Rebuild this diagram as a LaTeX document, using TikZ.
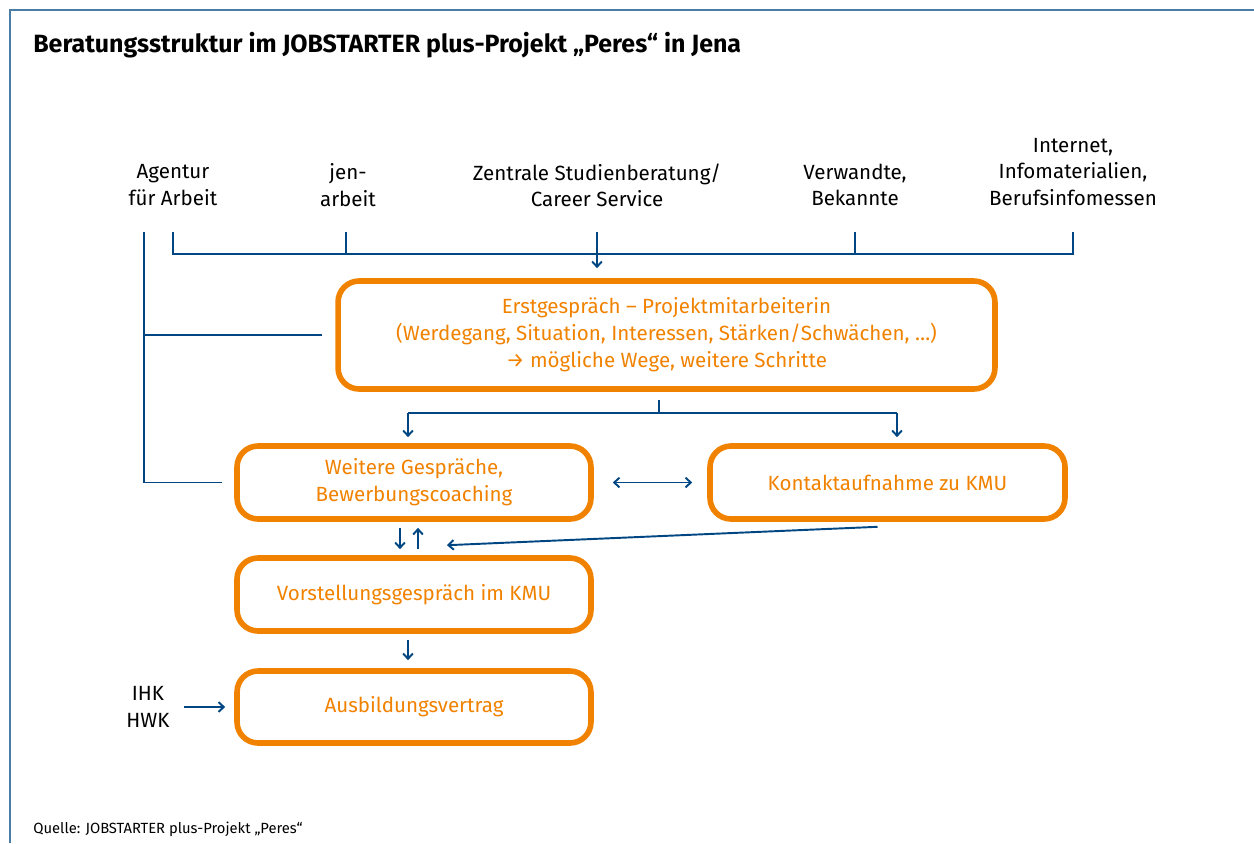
\documentclass[tikz,border=0pt]{standalone}
\usepackage{fontspec}
\setmainfont{Fira Sans}
\usetikzlibrary{arrows.meta,calc}
\definecolor{orng}{RGB}{240,130,0}
\definecolor{dblue}{RGB}{0,70,130}
\definecolor{frm}{RGB}{74,125,165}
\begin{document}
\begin{tikzpicture}[x=0.02cm,y=-0.02cm,
  txt/.style={font=\fontsize{11.7}{15}\selectfont, align=center, inner sep=0pt},
  box/.style={draw=orng, line width=3.2pt, rounded corners=0.42cm, text=orng,
    font=\fontsize{11.7}{15.4}\selectfont, align=center, inner sep=0pt},
  conn/.style={draw=dblue, line width=1.1pt},
  arr/.style={conn, -{Straight Barb[length=3pt,width=5.5pt]}},
  darr/.style={conn, {Straight Barb[length=3pt,width=5.5pt]}-{Straight Barb[length=3pt,width=5.5pt]}}]
\useasboundingbox (0,0) rectangle (1254,843);
\draw[frm, line width=1.2pt] (10,843) -- (10,10) -- (1254,10);

% title and source
\node[anchor=base west, inner sep=0pt, font=\fontsize{14.2}{17}\selectfont\bfseries] (title) at (33,52)
  {Beratungsstruktur im JOBSTARTER plus-Projekt „Peres“ in Jena};
\node[anchor=base west, inner sep=0pt, font=\fontsize{8.4}{10}\selectfont] (quelle) at (33,833)
  {Quelle: JOBSTARTER plus-Projekt „Peres“};

% sources
\node[txt] (agentur) at (173,185) {Agentur\\für Arbeit};
\node[txt] (jen) at (348,185) {jen-\\arbeit};
\node[txt] (zentrale) at (597,185) {Zentrale Studienberatung/\\Career Service};
\node[txt] (verw) at (855,185) {Verwandte,\\Bekannte};
\node[txt] (internet) at (1073,172) {Internet,\\Infomaterialien,\\Berufsinfomessen};
\node[txt] (ihk) at (148,707) {IHK\\HWK};

% boxes
\node[box, minimum width=13.14cm, minimum height=2.16cm] (erst) at (666.5,335)
  {\raisebox{0pt}{}Erstgespräch – Projektmitarbeiterin\\(Werdegang, Situation, Interessen, Stärken/Schwächen, …)\\→ mögliche Wege, weitere Schritte};
\node[box, minimum width=7.08cm, minimum height=1.46cm] (weitere) at (414,482.5)
  {Weitere Gespräche,\\Bewerbungscoaching};
\node[box, minimum width=7.1cm, minimum height=1.46cm] (kontakt) at (887.5,482.5)
  {Kontaktaufnahme zu KMU};
\node[box, minimum width=7.08cm, minimum height=1.46cm] (vorst) at (414,594.5)
  {Vorstellungsgespräch im KMU};
\node[box, minimum width=7.08cm, minimum height=1.44cm] (ausb) at (414,707)
  {Ausbildungsvertrag};

% bus at top
\coordinate (top) at (0,232);
\coordinate (bus) at (0,254);
\draw[conn] (agentur.south |- top) -- (agentur.south |- bus) -- (internet.south |- bus) -- (internet.south |- top);
\draw[conn] ($(jen.south |- top)+(-2,0)$) -- ($(jen.south |- bus)+(-2,0)$);
\draw[conn] (verw.south |- top) -- (verw.south |- bus);
\draw[arr] (zentrale.south |- top) -- ($(zentrale.south |- erst.north)+(0,-10)$);

% left vertical line
\coordinate (lv) at (144,232);
\draw[conn] (lv) -- (lv |- weitere.west) -- ($(weitere.west)+(-12,0)$);
\draw[conn] (lv |- erst.west) -- ($(erst.west)+(-13,0)$);

% split from Erstgespraech
\coordinate (split) at (659,413);
\coordinate (wa) at (408,413);
\coordinate (ka) at (897,413);
\draw[conn] ($(split |- erst.south)+(0,8)$) -- (split);
\draw[conn] (wa) -- (ka);
\draw[arr] (wa) -- ($(wa |- weitere.north)+(0,-6)$);
\draw[arr] (ka) -- ($(ka |- kontakt.north)+(0,-6)$);

% double arrow between boxes
\draw[darr] ($(weitere.east)+(19,0)$) -- ($(kontakt.west)+(-15,0)$);

% down / up arrows
\draw[arr] ($(weitere.south)+(-14,6)$) -- ($(vorst.north)+(-14,-6)$);
\draw[arr] ($(vorst.north)+(4,-6)$) -- ($(weitere.south)+(4,6)$);

% diagonal from Kontakt
\draw[arr] ($(kontakt.south)+(-10,5)$) -- ($(vorst.north)+(33,-10)$);

% Vorstellung -> Ausbildung
\draw[arr] ($(vorst.south)+(-6,6)$) -- ($(ausb.north)+(-6,-8)$);

% IHK -> Ausbildung
\draw[arr] ($(ihk.east)+(14,0)$) -- ($(ausb.west)+(-9,0)$);
\end{tikzpicture}
\end{document}
